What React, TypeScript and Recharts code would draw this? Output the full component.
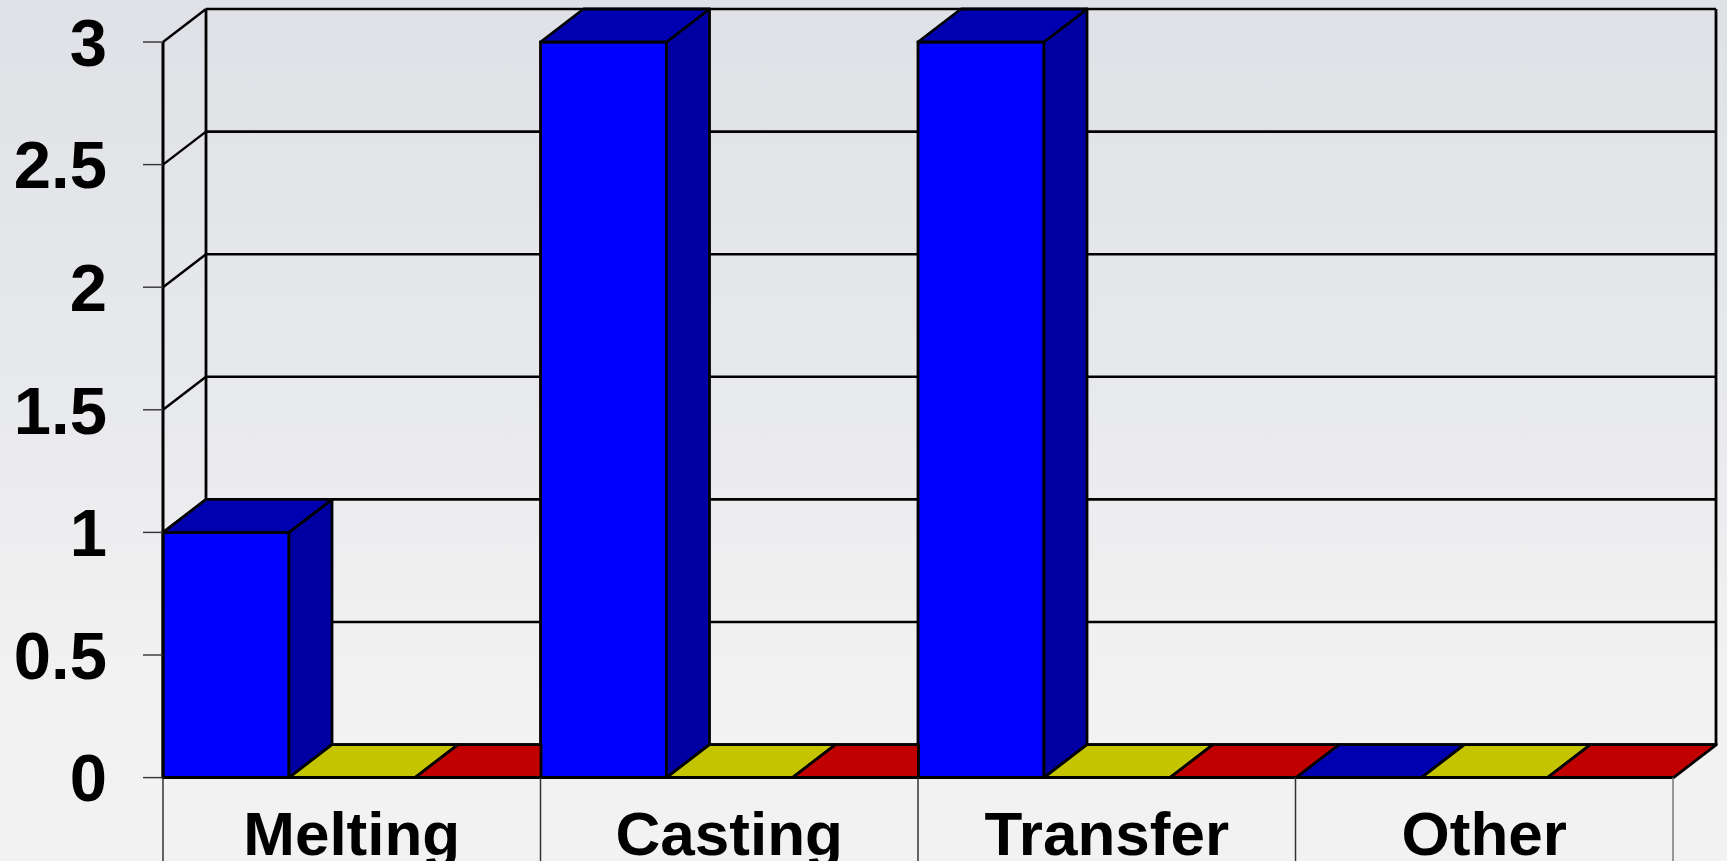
import { Bar, BarChart, CartesianGrid, XAxis, YAxis } from 'recharts'

const categories = ['Melting', 'Casting', 'Transfer', 'Other']
const seriesOne = [1, 3, 3, 0]
const seriesTwo = [0, 0, 0, 0]
const seriesThree = [0, 0, 0, 0]
const yTicks = [0, 0.5, 1, 1.5, 2, 2.5, 3]

const data = categories.map((name, i) => ({
    name,
    seriesOne: seriesOne[i],
    seriesTwo: seriesTwo[i],
    seriesThree: seriesThree[i],
}))

// depth of the fake 3d
const DX = 43
const DY = 33
const EDGE = 2.8

// hideRight: the next category's first bar stands in front of this top's right corner
const Box3D = (props: any) => {
    const { x, y, width: w, height: h, front, dark, top, hideRight } = props
    if (x == null || y == null) return null
    const topPts = hideRight
        ? `${x},${y} ${x + DX},${y - DY} ${x + w},${y - DY} ${x + w},${y}`
        : `${x},${y} ${x + DX},${y - DY} ${x + w + DX},${y - DY} ${x + w},${y}`
    return (
        <g>
            {h > 0 && (
                <rect x={x} y={y} width={w} height={h} fill={front} stroke="#000" strokeWidth={EDGE} />
            )}
            {h > 0 && (
                <polygon
                    points={`${x + w},${y} ${x + w + DX},${y - DY} ${x + w + DX},${y + h - DY} ${x + w},${y + h}`}
                    fill={dark}
                    stroke="#000"
                    strokeWidth={EDGE}
                    strokeLinejoin="round"
                />
            )}
            <polygon points={topPts} fill={top} stroke="#000" strokeWidth={EDGE} strokeLinejoin="round" />
        </g>
    )
}

const HGrid = (p: any) => (
    <g key={p.key}>
        <line x1={p.x1 + DX} y1={p.y1 - DY} x2={p.x2 + DX} y2={p.y2 - DY} stroke="#000" strokeWidth={2.6} />
        <line x1={p.x1} y1={p.y1} x2={p.x1 + DX} y2={p.y1 - DY} stroke="#000" strokeWidth={2.4} />
    </g>
)

const VGrid = (p: any) => (
    <line key={p.key} x1={p.x1 + DX} y1={p.y1 - DY} x2={p.x2 + DX} y2={p.y2 - DY} stroke="#000" strokeWidth={2.8} />
)

const CategoryTick = (props: any) => {
    const { x, y, payload, index, visibleTicksCount, width } = props
    const band = typeof width === 'number' && visibleTicksCount ? width / visibleTicksCount : (payload.offset || 0) * 2
    const left = x - band / 2
    return (
        <g>
            <line x1={left} y1={y} x2={left} y2={y + 90} stroke="#333" strokeWidth={1.5} />
            {index === visibleTicksCount - 1 && (
                <line x1={left + band} y1={y} x2={left + band} y2={y + 90} stroke="#777" strokeWidth={1.5} />
            )}
            <text x={x} y={y + 77} textAnchor="middle" fill="#000" fontSize={62} fontWeight="bold" fontFamily="'Liberation Sans', Arial, sans-serif">
                {payload.value}
            </text>
        </g>
    )
}

export default function App() {
    return (
        <div
            style={{
                position: 'absolute',
                left: 0,
                top: 0,
                width: 1727,
                height: 861,
                overflow: 'hidden',
                background: 'linear-gradient(to bottom, #dfe1e6 0%, #e8e9ec 45%, #f2f2f2 80%, #f2f2f2 100%)',
            }}
        >
            <BarChart
                width={1727}
                height={861}
                data={data}
                margin={{ top: 42, right: 54, bottom: 0, left: 0 }}
                barCategoryGap={0}
                barGap={0}
            >
                <CartesianGrid
                    horizontal={HGrid}
                    vertical={VGrid}
                    verticalCoordinatesGenerator={({ offset }: any) => [offset.left, offset.left + offset.width]}
                />
                <XAxis
                    dataKey="name"
                    height={83.4}
                    axisLine={{ stroke: '#000', strokeWidth: 3 }}
                    tickLine={false}
                    tickSize={0}
                    tickMargin={0}
                    interval={0}
                    tick={<CategoryTick />}
                />
                <YAxis
                    width={163}
                    domain={[0, 3]}
                    ticks={yTicks}
                    axisLine={{ stroke: '#000', strokeWidth: 3 }}
                    tickLine={{ stroke: '#333', strokeWidth: 1.4 }}
                    tickSize={20}
                    tickMargin={36}
                    tick={{ fill: '#000', fontSize: 67, fontWeight: 'bold', fontFamily: "'Liberation Sans', Arial, sans-serif" }}
                />
                <Bar
                    dataKey="seriesOne"
                    name="Series 1"
                    isAnimationActive={false}
                    shape={(p: any) => <Box3D {...p} front="#0000ff" dark="#0000a2" top="#0000b0" />}
                />
                <Bar
                    dataKey="seriesTwo"
                    name="Series 2"
                    isAnimationActive={false}
                    shape={(p: any) => <Box3D {...p} front="#ffff00" dark="#a8a800" top="#c4c400" />}
                />
                <Bar
                    dataKey="seriesThree"
                    name="Series 3"
                    isAnimationActive={false}
                    shape={(p: any) => (
                        <Box3D
                            {...p}
                            front="#ff0000"
                            dark="#a00000"
                            top="#c00000"
                            hideRight={(seriesOne[p.index + 1] ?? 0) > 0}
                        />
                    )}
                />
            </BarChart>
        </div>
    )
}
